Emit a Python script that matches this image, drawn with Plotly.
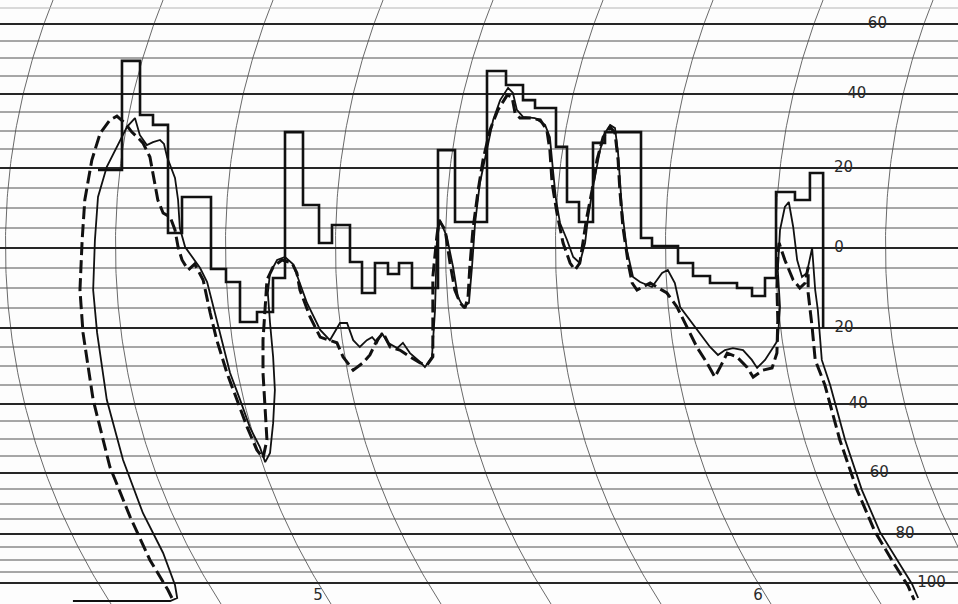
import numpy as np
import plotly.graph_objects as go

# ---- printed value scale of the chart paper (value -> depth from top of the sheet) ----
SCALE_VALUES = [65, 60, 55, 50, 45, 40, 35, 30, 25, 20, 15, 10, 5, 0, -5, -10, -15, -20,
                -25, -30, -35, -40, -45, -50, -55, -60, -65, -70, -75, -80, -85, -90,
                -95, -100, -105, -110]
SCALE_DEPTH = [8, 24, 41, 58, 76, 94, 112, 131, 149, 168, 188, 208, 228, 248, 268, 288, 308, 328,
               347, 366, 385, 404, 421, 439, 456, 473, 489, 504, 519, 534, 547, 560,
               572, 583, 593, 603]

# right-hand value labels (the paper prints magnitudes only)
LABEL_VALUES = [60, 40, 20, 0, -20, -40, -60, -80, -100]
LABEL_TEXT = ["60", "40", "20", "0", "20", "40", "60", "80", "100"]

# time labels at the foot of the chart
TIME_TICKS = [5, 6]
TIME_TEXT = ["5", "6"]

# curved time lines of the recorder paper (time at the -100 line)
ARC_TIMES = [4.5, 4.75, 5.0, 5.25, 5.5, 5.75, 6.0, 6.25, 6.5]

# ---- stepped record ----
STEP_T = [4.5, 4.5545, 4.5955, 4.625, 4.6591, 4.6909, 4.7568, 4.7909, 4.8227, 4.8614,
          4.8977, 4.925, 4.9659, 5.0023, 5.0318, 5.0727, 5.1, 5.1295, 5.1591, 5.1841,
          5.2136, 5.2727, 5.3114, 5.3841, 5.4273, 5.4659, 5.4932, 5.5409, 5.5659, 5.5932,
          5.625, 5.6523, 5.7341, 5.7591, 5.8182, 5.8523, 5.8909, 5.9523, 5.9864, 6.0159,
          6.041, 6.084, 6.118, 6.148]
STEP_V = [19.5, 49.2, 34.2, 31.6, 3.75, 12.75, -5.25, -8.5, -18.5, -16,
          -7.5, 29.7, 10.75, 1.25, 5.75, -3.5, -11.25, -3.75, -6.5, -3.75,
          -10, 24.7, 6.5, 46.4, 42.5, 38.3, 36.1, 25.6, 11.5, 6.5,
          26.7, 29.7, 2.5, 0.5, -3.75, -7, -8.75, -10, -12, -7.5,
          14, 12, 18.75, -20]

# ---- solid (thin) record ----
SOLID_T = [4.443, 4.664, 4.680, 4.675, 4.648, 4.602, 4.557, 4.520, 4.498, 4.489,
           4.493, 4.5, 4.520, 4.543, 4.566, 4.584, 4.595, 4.611, 4.625, 4.641,
           4.650, 4.657, 4.666, 4.675, 4.682, 4.686, 4.698, 4.714, 4.732, 4.748,
           4.766, 4.782, 4.800, 4.823, 4.845, 4.868, 4.880, 4.891, 4.898, 4.902,
           4.898, 4.891, 4.886, 4.891, 4.907, 4.925, 4.943, 4.975, 5.005, 5.027,
           5.05, 5.066, 5.080, 5.095, 5.111, 5.123, 5.134, 5.145, 5.159, 5.180,
           5.193, 5.209, 5.232, 5.243, 5.259, 5.266, 5.270, 5.277, 5.293, 5.307,
           5.318, 5.330, 5.343, 5.35, 5.357, 5.368, 5.384, 5.398, 5.414, 5.432,
           5.443, 5.452, 5.466, 5.493, 5.516, 5.527, 5.534, 5.541, 5.55, 5.566,
           5.580, 5.595, 5.607, 5.614, 5.625, 5.641, 5.652, 5.664, 5.675, 5.682,
           5.691, 5.702, 5.716, 5.732, 5.759, 5.782, 5.795, 5.811, 5.823, 5.845,
           5.868, 5.891, 5.909, 5.925, 5.943, 5.966, 5.986, 5.998, 6.016, 6.034,
           6.045, 6.05, 6.045, 6.05, 6.061, 6.070, 6.080, 6.089, 6.1, 6.111,
           6.118, 6.123, 6.130, 6.136, 6.145, 6.164, 6.198, 6.236, 6.277, 6.323,
           6.35, 6.364]
SOLID_V = [-109, -109, -107.5, -101, -87.3, -73, -56.2, -38.9, -21.3, -10.5,
           2, 12.75, 20.3, 25.6, 31.1, 33.4, 28.9, 26.1, 26.9, 27.5,
           26.4, 22.9, 20, 17.5, 12, 5, 0.25, -2.25, -5, -8.5,
           -16.25, -23.2, -31.8, -38.9, -46.7, -52.4, -56.8, -54.1, -45.6, -36.3,
           -27.6, -18.75, -11.25, -6.25, -3, -2.25, -4, -13.75, -20.5, -23.2,
           -18.75, -18.75, -23.2, -25, -23.2, -22.4, -23.9, -21.3, -23.9, -25.3,
           -23.9, -26.6, -28.9, -30.3, -27.6, -15.5, 1.25, 7, 2.75, -4.75,
           -12.25, -14.75, -13.75, -4.75, 6.25, 16.25, 24.7, 32.9, 38.3, 41.7,
           40.3, 35.6, 33.7, 33.4, 31.6, 28.3, 19.5, 12, 6.25, 2,
           -2.25, -3.75, 1.25, 7.75, 15.25, 24.7, 29.4, 31.6, 30.8, 23.9,
           9.5, -0.5, -7.25, -8.5, -9.75, -6.25, -5.5, -8.75, -14.75, -18,
           -21.3, -25, -27.1, -25.8, -25.3, -25.8, -28.4, -30.5, -28.4, -25,
           -23.2, -14.75, -5.5, 4.5, 10.25, 11.5, 5.25, -3, -7.25, -6.25,
           -3, 0, -10.5, -15.5, -28.4, -35, -50.3, -65.3, -79.3, -92.1,
           -100.5, -107.5]

# ---- dashed record ----
DASH_T = [4.668, 4.659, 4.618, 4.573, 4.527, 4.489, 4.466, 4.459, 4.464, 4.470,
          4.486, 4.505, 4.527, 4.543, 4.561, 4.577, 4.591, 4.602, 4.618, 4.625,
          4.636, 4.648, 4.664, 4.675, 4.682, 4.691, 4.705, 4.720, 4.739, 4.755,
          4.770, 4.793, 4.816, 4.839, 4.861, 4.875, 4.884, 4.880, 4.875, 4.875,
          4.880, 4.884, 4.898, 4.918, 4.941, 4.952, 4.959, 4.982, 5.005, 5.023,
          5.043, 5.057, 5.080, 5.102, 5.118, 5.134, 5.148, 5.164, 5.186, 5.209,
          5.232, 5.248, 5.261, 5.261, 5.261, 5.270, 5.275, 5.289, 5.3, 5.311,
          5.323, 5.334, 5.341, 5.345, 5.352, 5.364, 5.375, 5.391, 5.409, 5.430,
          5.441, 5.448, 5.459, 5.482, 5.505, 5.520, 5.527, 5.532, 5.543, 5.557,
          5.573, 5.584, 5.595, 5.602, 5.611, 5.623, 5.634, 5.648, 5.664, 5.675,
          5.682, 5.686, 5.693, 5.705, 5.714, 5.725, 5.739, 5.755, 5.770, 5.793,
          5.816, 5.839, 5.861, 5.884, 5.902, 5.914, 5.930, 5.952, 5.975, 5.989,
          6.011, 6.032, 6.043, 6.045, 6.043, 6.045, 6.048, 6.061, 6.080, 6.095,
          6.107, 6.114, 6.114, 6.123, 6.130, 6.152, 6.186, 6.225, 6.266, 6.311,
          6.341, 6.355]
DASH_V = [-107.5, -103.5, -90, -74.3, -58.2, -38.9, -21.3, -10.5, 2, 12,
          22.1, 29.4, 32.9, 33.9, 32.1, 29.7, 28.1, 26.7, 22.9, 18.75,
          12, 8.75, 7.75, 4.5, 0.25, -3, -5.5, -4, -8, -16.25,
          -23.2, -31.8, -38.9, -46.7, -53.2, -55.6, -50.3, -40.9, -31.8, -23.2,
          -14.75, -8, -4.75, -3, -3.75, -6.25, -10.5, -17.25, -22.4, -23.2,
          -23.9, -27.6, -31.1, -29.2, -27.1, -23.2, -21.3, -25, -25.8, -27.6,
          -29.2, -29.7, -27.6, -19.75, -7.25, 2.75, 7, 4.5, -3.75, -10.5,
          -13.75, -15, -12.25, -4.75, 4.5, 14.5, 22.1, 30.3, 35.6, 39.7,
          39.2, 34.7, 33.4, 33.4, 32.9, 30.3, 24.7, 16.25, 8.75, 1.25,
          -3.75, -5.5, -3.75, 1.25, 7.75, 14.5, 22.1, 28.3, 31.1, 29.4,
          22.1, 14.5, 5.25, -3.75, -8.75, -10.5, -9.75, -8.75, -9.75, -11.25,
          -14.75, -19.75, -25, -29.2, -32.9, -30.3, -26.6, -27.6, -30.3, -32.9,
          -31.1, -30.5, -26.6, -18, -9.75, -1.25, 1.25, -3, -8, -10,
          -8.75, -4.75, -11.25, -19.75, -28.4, -35, -50.3, -65.3, -79.3, -92.1,
          -101.5, -108.5]

assert len(STEP_T) == len(STEP_V)
assert len(SOLID_T) == len(SOLID_V)
assert len(DASH_T) == len(DASH_V)

# ---- geometry of the recorder paper ----
W, H = 958, 604
PX_PER_UNIT = 440.0          # paper pixels per time unit
ZERO_DEPTH = 248.0           # depth of the 0 line
ARC_RADIUS = 660.0           # radius of the pen arcs (paper pixels)
ARC_CENTER = 2.0             # height of the arc centre above the 0 line
LABEL_ARC_T = 6.184          # time of the arc carrying the value labels (at the 0 line)
T_AT_LEFT = 5 - 318 / PX_PER_UNIT
T_AT_RIGHT = T_AT_LEFT + W / PX_PER_UNIT
P_TOP = ZERO_DEPTH
P_BOTTOM = ZERO_DEPTH - H

_sv = np.array(SCALE_VALUES, float)[::-1]
_sp = (ZERO_DEPTH - np.array(SCALE_DEPTH, float))[::-1]


def ypos(v):
    """Paper scale: value -> vertical position."""
    return np.interp(np.asarray(v, float), _sv, _sp)


def arc_shift(p):
    d = np.asarray(p, float) - ARC_CENTER
    return (ARC_RADIUS - np.sqrt(ARC_RADIUS ** 2 - d ** 2)) / PX_PER_UNIT


fig = go.Figure()

# curved time lines
p_arc = np.linspace(P_BOTTOM, P_TOP, 160)
ax, ay = [], []
p_foot = ypos(-100)
for t in ARC_TIMES:
    xs = t - arc_shift(p_foot) + arc_shift(p_arc)
    ax += list(xs) + [None]
    ay += list(p_arc) + [None]
fig.add_trace(go.Scatter(x=ax, y=ay, mode="lines", line=dict(color="#6a6a6a", width=1),
                         hoverinfo="skip", showlegend=False))

# horizontal value lines
grid_vals = [v for v in SCALE_VALUES if -100 <= v <= 65]
groups = {"faint": ([], []), "thin": ([], []), "thick": ([], [])}
for v in grid_vals:
    key = "faint" if v == 65 else ("thick" if v % 20 == 0 else "thin")
    yy = float(ypos(v))
    groups[key][0].extend([T_AT_LEFT, T_AT_RIGHT, None])
    groups[key][1].extend([yy, yy, None])
styles = {"faint": ("#b5b5b5", 1), "thin": ("#505050", 1), "thick": ("#262626", 2)}
for key, (gx, gy) in groups.items():
    c, w = styles[key]
    fig.add_trace(go.Scatter(x=gx, y=gy, mode="lines", line=dict(color=c, width=w),
                             hoverinfo="skip", showlegend=False))

# value labels along the scale arc
lp = ypos(LABEL_VALUES)
fig.add_trace(go.Scatter(x=LABEL_ARC_T + arc_shift(lp), y=lp, mode="text", text=LABEL_TEXT,
                         textfont=dict(family="DejaVu Sans", size=15, color="#2a2a2a"),
                         hoverinfo="skip", showlegend=False))

# time labels
fig.add_trace(go.Scatter(x=TIME_TICKS, y=ypos([-106.5] * len(TIME_TICKS)), mode="text",
                         text=TIME_TEXT,
                         textfont=dict(family="DejaVu Sans", size=15, color="#2a2a2a"),
                         hoverinfo="skip", showlegend=False))

# records
fig.add_trace(go.Scatter(x=STEP_T, y=ypos(STEP_V), mode="lines", line_shape="hv",
                         line=dict(color="#111111", width=2.6), showlegend=False))
fig.add_trace(go.Scatter(x=SOLID_T, y=ypos(SOLID_V), mode="lines",
                         line=dict(color="#111111", width=1.8), showlegend=False))
fig.add_trace(go.Scatter(x=DASH_T, y=ypos(DASH_V), mode="lines",
                         line=dict(color="#111111", width=3, dash="13px,5px"),
                         showlegend=False))

fig.update_layout(
    width=W, height=H, autosize=False,
    margin=dict(l=0, r=0, t=0, b=0, pad=0),
    paper_bgcolor="#fdfdfd", plot_bgcolor="#fdfdfd",
    xaxis=dict(range=[T_AT_LEFT, T_AT_RIGHT], visible=False, fixedrange=True),
    yaxis=dict(range=[P_BOTTOM, P_TOP], visible=False, fixedrange=True),
    showlegend=False,
)

fig.write_html(
    "out.html",
    config={"displayModeBar": False},
    post_script="document.body.style.margin='0';document.body.style.overflow='hidden';",
)
